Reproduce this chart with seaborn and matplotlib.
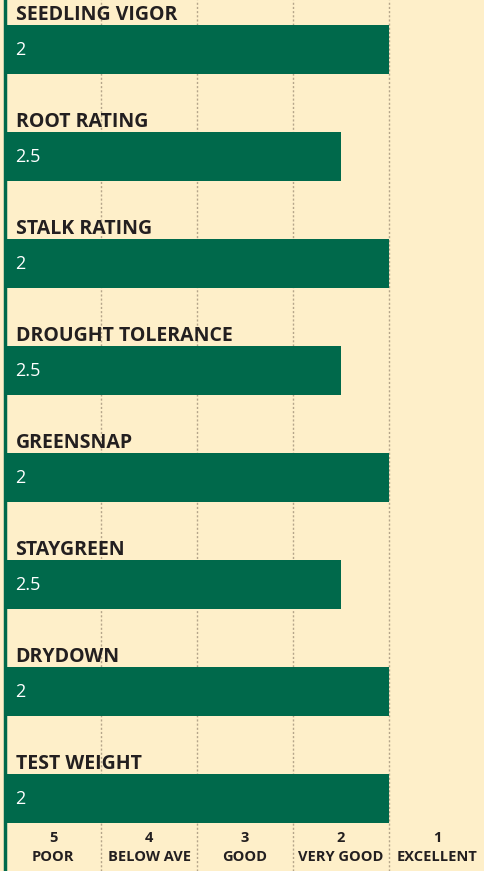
import pandas as pd
import numpy as np
import matplotlib.pyplot as plt
import seaborn as sns

traits = ['SEEDLING VIGOR', 'ROOT RATING', 'STALK RATING', 'DROUGHT TOLERANCE',
          'GREENSNAP', 'STAYGREEN', 'DRYDOWN', 'TEST WEIGHT']
ratings = [2, 2.5, 2, 2.5, 2, 2.5, 2, 2]
scale_nums = ['5', '4', '3', '2', '1']
scale_names = ['POOR', 'BELOW AVE', 'GOOD', 'VERY GOOD', 'EXCELLENT']

bg = '#FEEFC9'
green = '#00694B'
txt = '#231F20'

df = pd.DataFrame({'trait': traits, 'rating': ratings})
# 1 is best, so the bar runs from "5" toward "1"
df['score'] = 6 - df['rating']

sns.set_theme(style='white')
plt.rcParams['font.family'] = ['Open Sans', 'DejaVu Sans']

fig = plt.figure(figsize=(4.85, 8.71), dpi=100, facecolor=bg)
ax = fig.add_axes([5/485, 0, 480/485, 1])
ax.set_facecolor(bg)

sns.barplot(data=df, x='score', y='trait', orient='h', color=green,
            saturation=1, width=0.45, linewidth=0, ax=ax, zorder=3)

for xv in [1, 2, 3, 4, 5]:
    ax.axvline(xv, color='#B5A58A', lw=1, ls=(0, (1.5, 1.5)), zorder=1)

for i, (t, r) in enumerate(zip(traits, ratings)):
    ax.text(0.11, i - 0.28, t, fontsize=14, fontweight='bold', color=txt,
            va='baseline', ha='left', zorder=4)
    ax.text(0.11, i, f'{r:g}', fontsize=13, color='white', va='center', ha='left', zorder=4)

for k, (n, s) in enumerate(zip(scale_nums, scale_names)):
    ax.text(k + 0.5, 7.365, n, fontsize=10.5, fontweight='bold', color=txt, ha='center', va='center')
    ax.text(k + 0.5, 7.545, s, fontsize=10.5, fontweight='bold', color=txt, ha='center', va='center')

ax.set_xlim(0, 5)
ax.set_ylim(7.677, -0.4626)
ax.set(xlabel=None, ylabel=None, xticks=[], yticks=[])
for side in ['top', 'right', 'bottom']:
    ax.spines[side].set_visible(False)
ax.spines['left'].set_color(green)
ax.spines['left'].set_linewidth(2.5)

fig.savefig('out.png', dpi=100, facecolor=bg)
